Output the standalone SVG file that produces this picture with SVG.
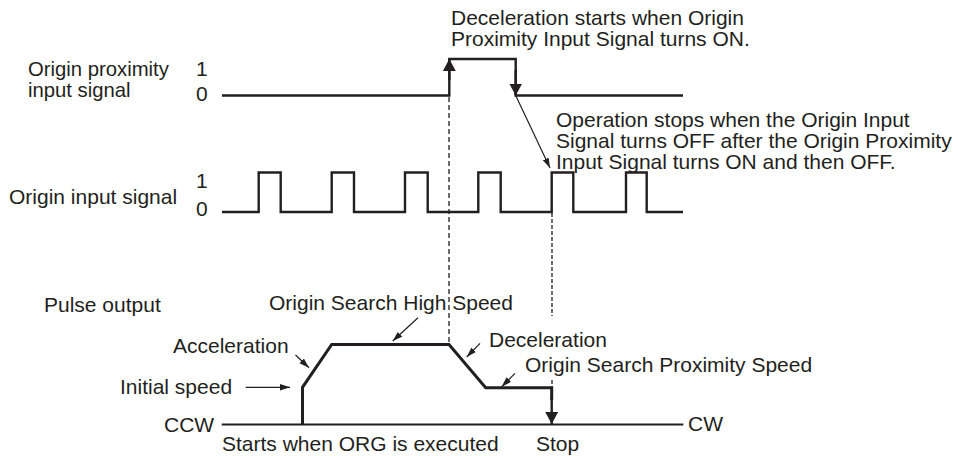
<svg xmlns="http://www.w3.org/2000/svg" width="963" height="456" viewBox="0 0 963 456">
<defs>
<style>
text{font-family:"Liberation Sans",Arial,Helvetica,sans-serif;font-size:21px;fill:#231f20}
.lbl2{font-size:20.3px}
.sig{fill:none;stroke:#231f20;stroke-width:2.4;stroke-linejoin:miter}
.prof{fill:none;stroke:#231f20;stroke-width:3;stroke-linejoin:miter}
.base{fill:none;stroke:#231f20;stroke-width:1.8}
.dash{fill:none;stroke:#231f20;stroke-width:1.3;stroke-dasharray:5 3}
.dash2{fill:none;stroke:#231f20;stroke-width:1.3;stroke-dasharray:4 2}
.thin{fill:none;stroke:#231f20;stroke-width:1.2;marker-end:url(#sm)}
.big{fill:none;stroke:#231f20;stroke-width:2.4;marker-end:url(#bg)}
</style>
<marker id="bg" markerUnits="userSpaceOnUse" markerWidth="13" markerHeight="13" refX="12" refY="6.5" orient="auto">
<path d="M0,0 L12,6.5 L0,13 z" fill="#231f20"/>
</marker>
<marker id="sm" markerUnits="userSpaceOnUse" markerWidth="11" markerHeight="7" refX="10" refY="3.2" orient="auto">
<path d="M0,0 L10,3.2 L0,6.4 z" fill="#231f20"/>
</marker>
</defs>
<rect width="963" height="456" fill="#ffffff"/>

<g id="proximity-signal">
<text class="lbl2" x="28" y="75.5">Origin proximity</text>
<text class="lbl2" x="28" y="97">input signal</text>
<text x="196" y="76">1</text>
<text x="196" y="101">0</text>
<polyline class="sig" points="222,95.5 449.3,95.5 449.3,59 515.7,59 515.7,95.5 683,95.5"/>
</g>

<g id="origin-signal">
<text x="9" y="204">Origin input signal</text>
<text x="196" y="188">1</text>
<text x="196" y="216">0</text>
<polyline class="sig" points="222,212 258.7,212 258.7,172.5 280.7,172.5 280.7,212 331.7,212 331.7,172.5 354,172.5 354,212 405,212 405,172.5 427.7,172.5 427.7,212 478.3,212 478.3,172.5 500.7,172.5 500.7,212 551.7,212 551.7,172.5 573.3,172.5 573.3,212 626,212 626,172.5 646.7,172.5 646.7,212 683,212"/>
</g>

<g id="pulse-output">
<text x="44" y="312">Pulse output</text>
<text x="164" y="431.5">CCW</text>
<text x="688" y="431">CW</text>
<line class="base" x1="221.7" y1="424.5" x2="683.3" y2="424.5"/>
<polyline class="prof" points="302.5,424 302.5,387.3 331.7,344.5 449,344.5 485.7,387.7 551.7,387.7 551.7,400"/>
</g>

<g id="note-deceleration-start">
<text x="451" y="24.5">Deceleration starts when Origin</text>
<text x="451" y="46">Proximity Input Signal turns ON.</text>
</g>

<g id="note-operation-stops">
<text x="556" y="126.5">Operation stops when the Origin Input</text>
<text x="556" y="147.5">Signal turns OFF after the Origin Proximity</text>
<text x="556" y="168.5">Input Signal turns ON and then OFF.</text>
</g>

<g id="label-high-speed"><text x="269" y="310">Origin Search High Speed</text></g>
<g id="label-acceleration"><text x="173" y="352.5">Acceleration</text></g>
<g id="label-deceleration"><text x="489" y="346.5">Deceleration</text></g>
<g id="label-proximity-speed"><text x="525" y="371.5">Origin Search Proximity Speed</text></g>
<g id="label-initial-speed"><text x="120" y="393.5">Initial speed</text></g>
<g id="label-start"><text x="222" y="451">Starts when ORG is executed</text></g>
<g id="label-stop"><text x="536" y="451">Stop</text></g>

<g id="connectors">
<line class="big" x1="449.3" y1="80" x2="449.3" y2="59"/>
<line class="big" x1="515.7" y1="70" x2="515.7" y2="95.5"/>
<line class="big" x1="551.7" y1="395" x2="551.7" y2="424"/>
<line class="dash" x1="449" y1="97" x2="449" y2="344"/>
<line class="dash2" x1="552" y1="213" x2="552" y2="316"/>
<line class="dash2" x1="552" y1="343" x2="552" y2="347"/>
<line class="dash2" x1="552" y1="380" x2="552" y2="388"/>
<line class="thin" x1="515" y1="94" x2="550" y2="168"/>
<line class="thin" x1="245.7" y1="387.3" x2="290" y2="387.3"/>
<line class="thin" x1="295.5" y1="355" x2="309" y2="367.7"/>
<line class="thin" x1="418" y1="317.7" x2="392.7" y2="341"/>
<line class="thin" x1="480" y1="343.3" x2="466.7" y2="357"/>
<line class="thin" x1="515" y1="373.3" x2="501.7" y2="386.7"/>
</g>
</svg>
